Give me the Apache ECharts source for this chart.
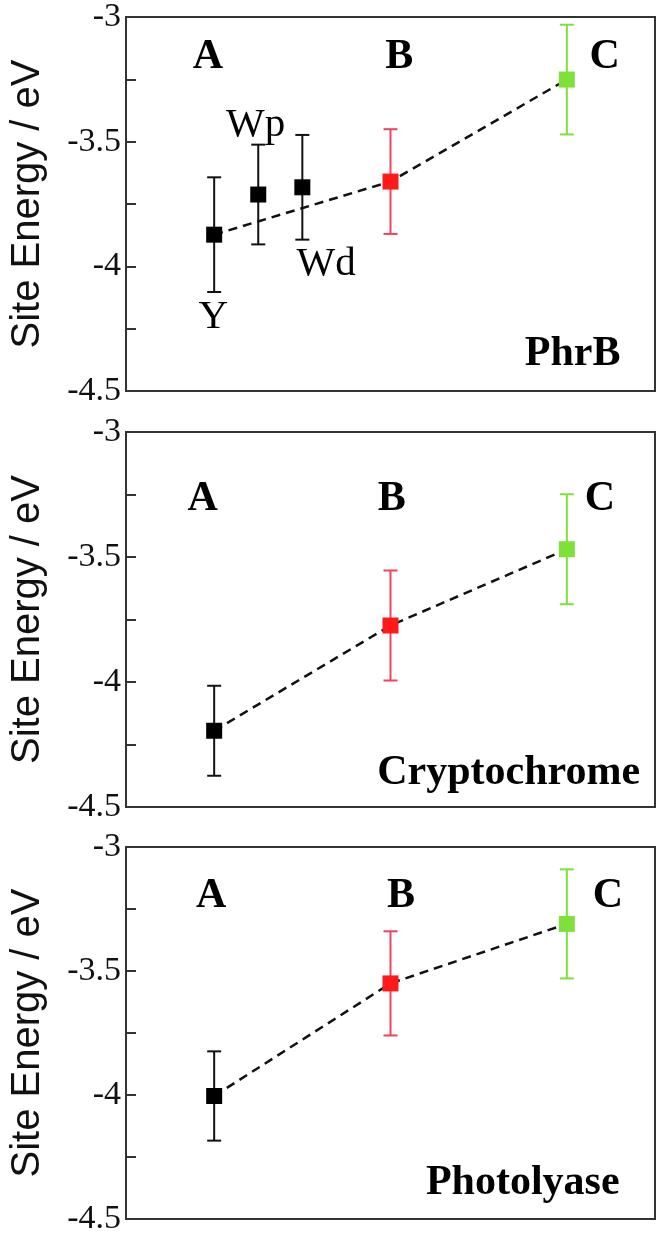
<!DOCTYPE html>
<html>
<head>
<meta charset="utf-8">
<script src="https://cdn.jsdelivr.net/npm/echarts@6/dist/echarts.min.js"></script>
<style>
  html, body { margin: 0; padding: 0; background: #fff; }
  #main { width: 661px; height: 1236px; }
</style>
</head>
<body>
<div id="main"></div>
<script>
// --- data: [x position, site energy, error] ; kind 0 = A (black), 1 = B (red), 2 = C (green)
var phrbX = [2, 3, 4, 6, 10];
var phrbE = [-3.873, -3.712, -3.683, -3.66, -3.251];
var phrbErr = [0.23, 0.20, 0.21, 0.21, 0.22];
var phrbKind = [0, 0, 0, 1, 2];
var phrbPath = [0, 3, 4]; // Y -> B -> C

var cryX = [2, 6, 10];
var cryE = [-4.195, -3.774, -3.469];
var cryErr = [0.18, 0.22, 0.22];
var cryKind = [0, 1, 2];

var phoX = [2, 6, 10];
var phoE = [-4.004, -3.55, -3.31];
var phoErr = [0.18, 0.21, 0.22];
var phoKind = [0, 1, 2];

// annotations [text, x, y]
var phrbSites = [['A', 1.86, -3.16], ['B', 6.2, -3.16], ['C', 10.86, -3.16], ['PhrB', 10.13, -4.353]];
var phrbRes = [['Wp', 2.94, -3.434], ['Wd', 4.54, -3.99], ['Y', 1.98, -4.205]];
var crySites = [['A', 1.74, -3.27], ['B', 6.03, -3.27], ['C', 10.75, -3.27], ['Cryptochrome', 8.68, -4.364]];
var phoSites = [['A', 1.93, -3.2], ['B', 6.24, -3.2], ['C', 10.93, -3.2], ['Photolyase', 9.0, -4.357]];

var yTicks = { min: -4.5, max: -3, interval: 0.5 };

var kindColor = ['#111', '#f2405e', '#7ee13a'];
var kindFill = ['#000', '#ff1a1a', '#7ee13a'];
var serif = 'Liberation Serif';

var chart = echarts.init(document.getElementById('main'));

var grids = [
  { left: 116, width: 539, top: 14, height: 377 },
  { left: 116, width: 539, top: 432, height: 375 },
  { left: 116, width: 539, top: 847, height: 377 }
];

function makeRows(xs, es, errs, kinds) {
  return xs.map(function (x, i) { return [x, es[i], errs[i], kinds[i]]; });
}

function labelSeries(idx, items, bold) {
  return {
    type: 'scatter',
    xAxisIndex: idx, yAxisIndex: idx,
    symbolSize: 1,
    itemStyle: { color: 'rgba(0,0,0,0)', opacity: 1 },
    z: 5,
    silent: true,
    data: items.map(function (s) { return { name: s[0], value: [s[1], s[2]] }; }),
    label: {
      show: true, position: 'inside', formatter: '{b}',
      fontFamily: serif, fontWeight: bold ? 'bold' : 'normal',
      fontSize: bold ? 42 : 41, color: '#000', opacity: 1
    }
  };
}

function panelSeries(idx, rows, path, sites, res) {
  var out = [];
  // dashed connecting line
  out.push({
    type: 'line',
    xAxisIndex: idx, yAxisIndex: idx,
    data: path.map(function (i) { return [rows[i][0], rows[i][1]]; }),
    symbol: 'none',
    lineStyle: { color: '#111', width: 2.5, type: [9, 6] },
    z: 2,
    silent: true
  });
  // error bars
  out.push({
    type: 'custom',
    xAxisIndex: idx, yAxisIndex: idx,
    data: rows,
    z: 3,
    renderItem: function (params, api) {
      var x = api.value(0), y = api.value(1), e = api.value(2);
      var c = kindColor[api.value(3)];
      var top = api.coord([x, y + e]);
      var bot = api.coord([x, y - e]);
      var w = 7;
      var st = { stroke: c, lineWidth: 2 };
      return {
        type: 'group',
        children: [
          { type: 'line', shape: { x1: top[0], y1: top[1], x2: bot[0], y2: bot[1] }, style: st },
          { type: 'line', shape: { x1: top[0] - w, y1: top[1], x2: top[0] + w, y2: top[1] }, style: st },
          { type: 'line', shape: { x1: bot[0] - w, y1: bot[1], x2: bot[0] + w, y2: bot[1] }, style: st }
        ]
      };
    }
  });
  // square markers
  out.push({
    type: 'scatter',
    xAxisIndex: idx, yAxisIndex: idx,
    symbol: 'rect',
    symbolSize: 16,
    z: 4,
    data: rows.map(function (r) {
      return { value: [r[0], r[1]], itemStyle: { color: kindFill[r[3]], opacity: 1 } };
    })
  });
  out.push(labelSeries(idx, sites, true));
  if (res) out.push(labelSeries(idx, res, false));
  return out;
}

var xAxes = grids.map(function (g, i) {
  return {
    type: 'value', gridIndex: i, min: 0, max: 12,
    axisLine: { show: false }, axisTick: { show: false },
    axisLabel: { show: false }, splitLine: { show: false }
  };
});

var yAxes = grids.map(function (g, i) {
  return {
    type: 'value', gridIndex: i,
    min: yTicks.min, max: yTicks.max, interval: yTicks.interval,
    name: 'Site Energy / eV',
    nameLocation: 'middle',
    nameRotate: 90,
    nameGap: 78,
    nameTextStyle: { fontFamily: 'Liberation Sans', fontSize: 40, color: '#111' },
    axisLine: { show: true, lineStyle: { color: '#333', width: 2 } },
    axisTick: { show: true, inside: true, length: 10, lineStyle: { color: '#333', width: 2 } },
    minorTick: { show: true, splitNumber: 2, length: 10, lineStyle: { color: '#333', width: 2 } },
    axisLabel: {
      fontFamily: serif, fontSize: 34, color: '#111', margin: 5,
      textStyle: { fontFamily: serif }
    },
    splitLine: { show: false }
  };
});

var series = []
  .concat(panelSeries(0, makeRows(phrbX, phrbE, phrbErr, phrbKind), phrbPath, phrbSites, phrbRes))
  .concat(panelSeries(1, makeRows(cryX, cryE, cryErr, cryKind), [0, 1, 2], crySites, null))
  .concat(panelSeries(2, makeRows(phoX, phoE, phoErr, phoKind), [0, 1, 2], phoSites, null));

chart.setOption({
  animation: false,
  backgroundColor: '#fff',
  textStyle: { fontFamily: serif },
  grid: grids.map(function (g) {
    return Object.assign({ show: true, borderColor: '#333', borderWidth: 2, backgroundColor: 'transparent' }, g);
  }),
  xAxis: xAxes,
  yAxis: yAxes,
  series: series
});
</script>
</body>
</html>
